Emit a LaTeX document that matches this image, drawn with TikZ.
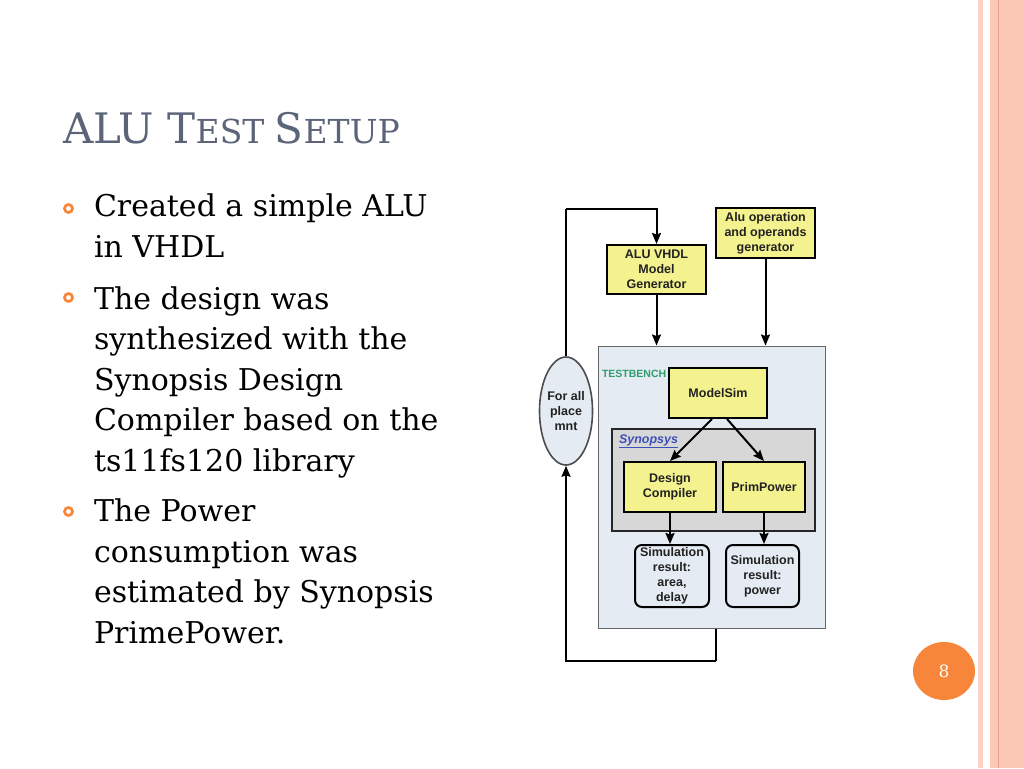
\documentclass[tikz,border=0pt]{standalone}
\usepackage{fontspec}
\setmainfont{DejaVu Serif}
\newfontfamily\diagfont{Liberation Sans}
\usepackage{tikz}
\usetikzlibrary{arrows,arrows.meta,shapes.geometric,positioning}
\usepackage{xcolor}

\definecolor{boxyellow}{HTML}{F4F28E}
\definecolor{benchfill}{HTML}{E4EBF2}
\definecolor{synfill}{HTML}{D7D7D7}
\definecolor{titlegray}{HTML}{5B6478}
\definecolor{dotorange}{HTML}{F7863A}
\definecolor{stripepink}{HTML}{FBC8B5}
\definecolor{stripedark}{HTML}{E6A48A}
\definecolor{benchgreen}{HTML}{2E9E6E}
\definecolor{synblue}{HTML}{3D4FB8}
\definecolor{textdark}{HTML}{222222}

\begin{document}
\begin{tikzpicture}[x=1pt,y=-1pt,->,>={Stealth[length=11pt,width=9pt,inset=1.5pt]},line width=2pt]
    \tikzstyle{ybox}=[draw=black,fill=boxyellow,line width=2pt,align=center,inner sep=0pt,text=textdark,font=\diagfont\bfseries\fontsize{12.5}{15}\selectfont]
    \tikzstyle{resbox}=[ybox,fill=benchfill,rounded corners=7pt]
    \tikzstyle{bodytext}=[anchor=base west,align=left,inner sep=0pt,font=\fontsize{30}{40.5}\selectfont]
    \tikzstyle{bullet}=[circle,draw=dotorange,line width=2.7pt,minimum size=8pt,inner sep=0pt]

    % page and side stripes
    \fill[white] (0,0) rectangle (1024,768);
    \useasboundingbox (0,0) rectangle (1024,768);
    \fill[stripepink!80] (978,0) rectangle (983,768);
    \fill[stripepink] (990,0) rectangle (1024,768);
    \fill[stripedark] (997.5,0) rectangle (999,768);

    % title and bullets (base = last line)
    \node[anchor=base west,inner sep=0pt,text=titlegray] (title) at (62,143)
        {\fontsize{42}{42}\selectfont ALU T\fontsize{33}{33}\selectfont EST \fontsize{42}{42}\selectfont S\fontsize{33}{33}\selectfont ETUP};

    \node[bullet] (dot1) at (68.5,208.5) {};
    \node[bullet] (dot2) at (68.5,297.5) {};
    \node[bullet] (dot3) at (68.5,511.5) {};
    \node[bodytext] (b1) at (93,257) {Created a simple ALU\\in VHDL};
    \node[bodytext] (b2) at (93,471) {The design was\\synthesized with the\\Synopsis Design\\Compiler based on the\\ts11fs120 library};
    \node[bodytext] (b3) at (93,643) {The Power\\consumption was\\estimated by Synopsis\\PrimePower.};

    % diagram
    \node[draw=black!60,fill=benchfill,line width=1pt,minimum width=227pt,minimum height=282pt] (bench) at (711.5,487) {};
    \node[anchor=west,inner sep=0pt,text=benchgreen,font=\diagfont\bfseries\fontsize{10.5}{12}\selectfont] (benchlabel) at (601,374) {TESTBENCH};
    \node[draw=black!85,fill=synfill,line width=1.6pt,minimum width=203pt,minimum height=102pt] (syn) at (713.5,480) {};
    \node[anchor=west,inner sep=0pt,text=synblue,font=\diagfont\bfseries\itshape\fontsize{12.5}{14}\selectfont] (synlabel) at (618,441) {\underline{Synopsys}};

    \node[ybox,minimum width=99pt,minimum height=49pt] (alugen) at (656.5,269.5) {ALU VHDL\\Model\\Generator};
    \node[ybox,minimum width=99pt,minimum height=50pt] (aluop) at (765.5,233) {Alu operation\\and operands\\generator};
    \node[ybox,minimum width=98pt,minimum height=50pt] (modelsim) at (718,393) {ModelSim};
    \node[ybox,minimum width=92pt,minimum height=50pt] (dc) at (670,487) {Design\\Compiler};
    \node[ybox,minimum width=82pt,minimum height=50pt] (pp) at (764,487) {PrimPower};
    \node[resbox,minimum width=74pt,minimum height=62pt] (res1) at (672,576) {Simulation\\result:\\area,\\delay};
    \node[resbox,minimum width=73pt,minimum height=62pt] (res2) at (762.5,576) {Simulation\\result:\\power};
    \node[ellipse,draw=black!70,fill=benchfill,line width=1.6pt,minimum width=49pt,minimum height=108pt,inner sep=0pt,align=center,text=textdark,font=\diagfont\bfseries\fontsize{12.5}{15}\selectfont] (placemnt) at (566,411) {For all\\place\\mnt};

    \coordinate (looptop) at (566,209);
    \coordinate (loopbot) at (716,661);

    \draw[-] (placemnt.north) -- (looptop);
    \draw (looptop) -| (alugen.north);
    \draw (alugen.south) -- (alugen.south |- bench.north);
    \draw (aluop.south) -- (aluop.south |- bench.north);
    \draw ([xshift=-6pt]modelsim.south) -- (dc.north);
    \draw ([xshift=9pt]modelsim.south) -- (pp.north);
    \draw (dc.south) -- (dc.south |- res1.north);
    \draw (pp.south) -- (pp.south |- res2.north);
    \draw[-] (bench.south -| loopbot) -- (loopbot);
    \draw (loopbot) -| (placemnt.south);

    % page number
    \node[ellipse,fill=dotorange,minimum width=62pt,minimum height=58pt,text=white,font=\fontsize{17}{17}\selectfont] (pagenum) at (944,671) {8};
\end{tikzpicture}
\end{document}
